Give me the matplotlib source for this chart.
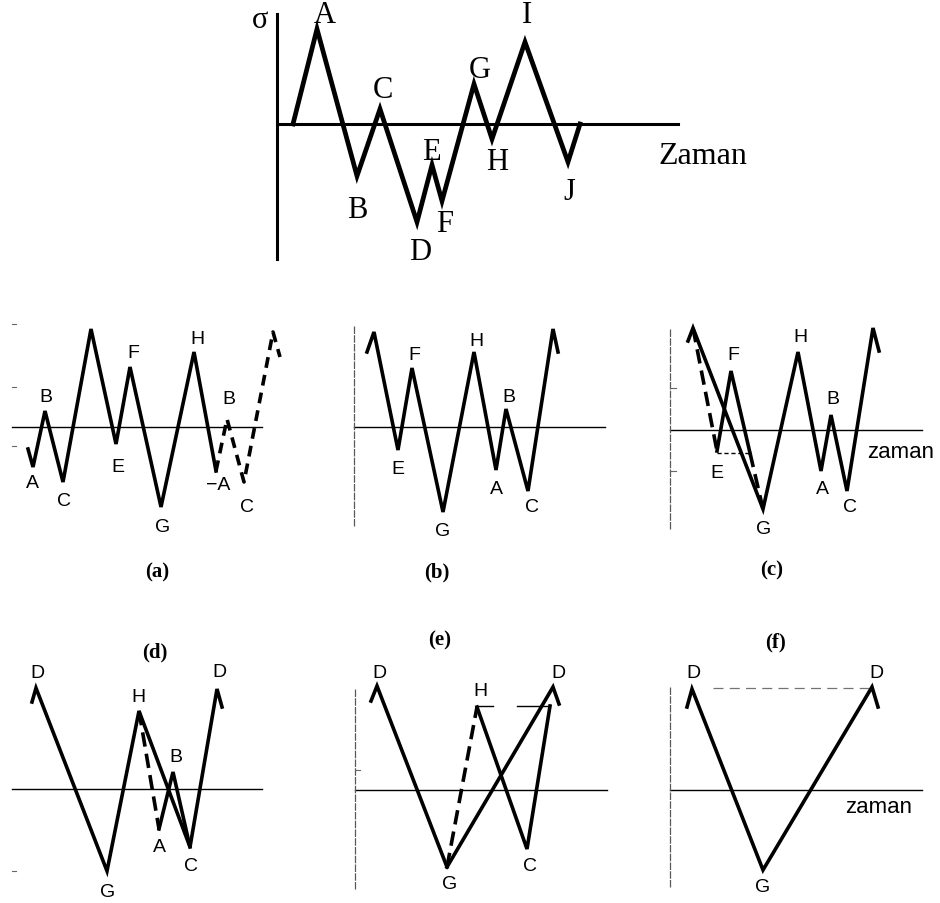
import matplotlib.pyplot as plt

W, H = 940, 904
SERIF = ['Liberation Serif', 'DejaVu Serif']
SANS = ['Liberation Sans', 'DejaVu Sans']

# ---- ana yukleme gecmisi (zaman, gerilme) ----
top_t = [1.6, 4.0, 8.0, 10.3, 14.0, 15.5, 16.5, 19.7, 21.5, 24.8, 29.1, 30.3]
top_s = [0.0, 9.5, -5.2, 1.5, -9.8, -4.1, -7.7, 4.0, -1.5, 8.2, -3.8, 0.0]
top_names = ['', 'A', 'B', 'C', 'D', 'E', 'F', 'G', 'H', 'I', 'J', '']
top_off = [None, (8, -15), (0, 33), (3, -20), (3, 30), (-1, -13), (3, 23),
           (6, -15), (5, 22), (2, -28), (1, 30), None]

# ---- (a) ----
a_t = [1.6, 2.1, 3.3, 5.1, 7.9, 10.4, 11.8, 14.9, 18.2, 20.4]
a_s = [-2.2, -4.0, 1.6, -5.5, 9.8, -1.7, 6.0, -8.0, 7.5, -4.4]
a_names = ['', 'A', 'B', 'C', '', 'E', 'F', 'G', 'H', '\u2212A']
a_off = [None, (-1, 15), (1, -15), (1, 18), None, (2, 22), (3, -14),
         (2, 20), (3, -13), (2, 14)]
a_dash_t = [20.4, 21.5, 23.2, 26.1, 26.8]
a_dash_s = [-4.4, 0.8, -5.5, 9.5, 7.0]
a_dash_names = ['', 'B', 'C', '', '']
a_dash_off = [None, (2, -21), (3, 25), None, None]

# ---- (b) ----
b_t = [1.3, 2.0, 4.4, 5.8, 8.9, 12.0, 14.2, 15.2, 17.4, 19.9, 20.4]
b_s = [7.5, 9.5, -2.3, 5.9, -8.5, 7.5, -4.3, 1.8, -6.4, 9.8, 7.5]
b_names = ['', '', 'E', 'F', 'G', 'H', 'A', 'B', 'C', '', '']
b_off = [None, None, (0, 19), (2, -14), (0, 19), (2, -12), (0, 19),
         (3, -13), (4, 16), None, None]

# ---- (c) ----
c_t = [1.8, 2.3, 9.3, 12.8, 15.1, 16.1, 17.7, 20.3, 20.9]
c_s = [8.9, 10.2, -7.9, 7.8, -4.1, 1.5, -6.1, 10.2, 7.9]
c_names = ['', '', 'G', 'H', 'A', 'B', 'C', '', '']
c_off = [None, None, (1, 20), (2, -16), (1, 18), (2, -17), (3, 16), None, None]
c_loop_t = [4.7, 6.1, 8.0]
c_loop_s = [-2.1, 5.9, -2.3]
c_loop_names = ['E', 'F', '']
c_loop_off = [(0, 21), (2, -17), None]
c_dash1_t, c_dash1_s = [2.3, 4.7], [10.2, -2.1]
c_dash2_t, c_dash2_s = [8.0, 9.3], [-2.3, -7.9]
c_level_t, c_level_s = [4.7, 8.0], [-2.3, -2.3]

# ---- (d) ----
d_t = [2.0, 2.4, 9.5, 12.7, 17.8, 20.5, 21.0]
d_s = [8.7, 10.1, -8.2, 7.8, -5.8, 10.0, 8.2]
d_names = ['', 'D', 'G', 'H', 'C', 'D', '']
d_off = [None, (1, -16), (1, 21), (-1, -14), (1, 19), (2, -17), None]
d_dash_t, d_dash_s = [12.7, 14.7], [7.8, -4.0]
d_sub_t = [14.7, 16.1, 17.8]
d_sub_s = [-4.0, 1.7, -5.8]
d_sub_names = ['A', 'B', '']
d_sub_off = [(0, 18), (3, -15), None]

# ---- (e) ----
e1_t, e1_s = [1.6, 2.2, 9.2], [8.9, 10.4, -7.7]
e1_names = ['', 'D', 'G']
e1_off = [None, (2, -13), (3, 17)]
e2_t, e2_s = [9.2, 19.8, 20.4], [-7.7, 10.3, 8.6]
e2_names = ['', 'D', '']
e2_off = [None, (5, -15), None]
e_dash_t, e_dash_s = [9.2, 12.2], [-7.7, 8.3]
e3_t, e3_s = [12.2, 17.2, 19.5], [8.3, -5.9, 8.4]
e3_names = ['H', 'C', '']
e3_off = [(3, -17), (3, 17), None]
e_level = [([12.2, 13.8], [8.4, 8.4]), ([16.2, 19.5], [8.4, 8.4])]

# ---- (f) ----
f_t = [1.7, 2.2, 9.3, 20.2, 20.8]
f_s = [8.3, 10.1, -8.0, 10.3, 8.3]
f_names = ['', 'D', 'G', 'D', '']
f_off = [None, (1, -17), (0, 17), (4, -15), None]
f_level_t, f_level_s = [4.3, 20.0], [10.2, 10.2]

fig = plt.figure(figsize=(W / 100, H / 100), dpi=100)
fig.patch.set_facecolor('white')


def panel(x0, y0, left, right, top, bottom):
    # eksen: 1 birim = 10 piksel, orijin (x0, y0) pikselde
    ax = fig.add_axes([left / W, 1 - bottom / H, (right - left) / W, (bottom - top) / H])
    ax.set_xlim((left - x0) / 10, (right - x0) / 10)
    ax.set_ylim((y0 - bottom) / 10, (y0 - top) / 10)
    ax.axis('off')
    return ax


def path(ax, t, s, lw, ls='-', color='black'):
    ax.plot(t, s, color=color, lw=lw, ls=ls, solid_joinstyle='miter',
            dash_capstyle='butt', clip_on=False)


def labels(ax, t, s, names, offs, size, family):
    for ti, si, n, o in zip(t, s, names, offs):
        if n:
            ax.annotate(n, (ti, si), xytext=(o[0], -o[1]), textcoords='offset pixels',
                        ha='center', va='center', fontsize=size, family=family)


# ana grafik
ax = panel(277, 125, 230, 760, 0, 270)
ax.plot([0, 40.1], [0, 0], color='black', lw=2.2, clip_on=False)
ax.plot([0, 0], [11.0, -13.5], color='black', lw=2.2, clip_on=False)
path(ax, top_t, top_s, 3.4)
labels(ax, top_t, top_s, top_names, top_off, 22, SERIF)
ax.text(-1.7, 10.5, '\u03c3', fontsize=22, family=SERIF, ha='center', va='center')
ax.text(38.1, -3.2, 'Zaman', fontsize=23, family=SERIF, ha='left', va='center')

lw = 2.6
# (a)
ax = panel(12, 428, 0, 300, 310, 540)
ax.plot([0, 25.0], [0, 0], color='black', lw=1.0, clip_on=False)
for s in [10.3, 4.0, -1.9]:
    ax.plot([0, 0.4], [s, s], color='0.4', lw=0.8, clip_on=False)
path(ax, a_t, a_s, lw)
path(ax, a_dash_t, a_dash_s, lw, ls=(0, (3, 2)))
labels(ax, a_t, a_s, a_names, a_off, 14, SANS)
labels(ax, a_dash_t, a_dash_s, a_dash_names, a_dash_off, 14, SANS)

# (b)
ax = panel(354, 428, 330, 620, 310, 540)
ax.plot([0, 25.1], [0, 0], color='black', lw=1.0, clip_on=False)
ax.plot([0, 0], [10.1, -10.0], color='0.35', lw=0.9, ls=(0, (6, 1)), clip_on=False)
path(ax, b_t, b_s, lw)
labels(ax, b_t, b_s, b_names, b_off, 14, SANS)

# (c)
ax = panel(670, 431, 660, 940, 310, 540)
ax.plot([0, 25.2], [0, 0], color='black', lw=1.0, clip_on=False)
ax.plot([0, 0], [10.1, -9.9], color='0.35', lw=0.9, ls=(0, (6, 1)), clip_on=False)
for s in [4.2, -4.1]:
    ax.plot([0, 0.6], [s, s], color='0.4', lw=0.8, clip_on=False)
path(ax, c_t, c_s, lw)
path(ax, c_loop_t, c_loop_s, lw)
path(ax, c_dash1_t, c_dash1_s, lw, ls=(0, (4, 2)))
path(ax, c_dash2_t, c_dash2_s, lw, ls=(0, (4, 2)))
ax.plot(c_level_t, c_level_s, color='black', lw=1.0, ls=(0, (3, 2)), clip_on=False)
labels(ax, c_t, c_s, c_names, c_off, 14, SANS)
labels(ax, c_loop_t, c_loop_s, c_loop_names, c_loop_off, 14, SANS)
ax.text(19.7, -2.1, 'zaman', fontsize=16, family=SANS, ha='left', va='center')

# (d)
ax = panel(12, 790, 0, 300, 620, 904)
ax.plot([0, 25.0], [0, 0], color='black', lw=1.0, clip_on=False)
ax.plot([0, 0.4], [-8.2, -8.2], color='0.4', lw=0.8, clip_on=False)
path(ax, d_t, d_s, lw)
path(ax, d_dash_t, d_dash_s, lw, ls=(0, (4, 2)))
path(ax, d_sub_t, d_sub_s, lw)
labels(ax, d_t, d_s, d_names, d_off, 14, SANS)
labels(ax, d_sub_t, d_sub_s, d_sub_names, d_sub_off, 14, SANS)

# (e)
ax = panel(355, 791, 330, 620, 620, 904)
ax.plot([0, 25.2], [0, 0], color='black', lw=1.0, clip_on=False)
ax.plot([0, 0], [10.1, -9.9], color='0.35', lw=0.9, ls=(0, (6, 1)), clip_on=False)
ax.plot([0, 0.5], [2.0, 2.0], color='0.4', lw=0.8, clip_on=False)
path(ax, e1_t, e1_s, lw)
path(ax, e2_t, e2_s, lw)
path(ax, e_dash_t, e_dash_s, lw, ls=(0, (4, 2)))
path(ax, e3_t, e3_s, lw)
for lt, ls_ in e_level:
    ax.plot(lt, ls_, color='black', lw=1.0, clip_on=False)
labels(ax, e1_t, e1_s, e1_names, e1_off, 14, SANS)
labels(ax, e2_t, e2_s, e2_names, e2_off, 14, SANS)
labels(ax, e3_t, e3_s, e3_names, e3_off, 14, SANS)

# (f)
ax = panel(670, 791, 660, 940, 620, 904)
ax.plot([0, 25.2], [0, 0], color='black', lw=1.0, clip_on=False)
ax.plot([0, 0], [10.3, -9.7], color='0.35', lw=0.9, ls=(0, (6, 1)), clip_on=False)
ax.plot(f_level_t, f_level_s, color='0.45', lw=0.9, ls=(0, (8, 5)), clip_on=False)
path(ax, f_t, f_s, lw)
labels(ax, f_t, f_s, f_names, f_off, 14, SANS)
ax.text(17.5, -1.7, 'zaman', fontsize=16, family=SANS, ha='left', va='center')

# alt yazilar
for txt, x, y in [('(a)', 157, 572), ('(b)', 437, 572), ('(c)', 772, 570),
                  ('(d)', 155, 652), ('(e)', 440, 640), ('(f)', 775, 642)]:
    fig.text(x / W, 1 - y / H, txt, fontsize=15, family=SERIF, fontweight='bold',
             ha='center', va='center')

fig.savefig('out.png', dpi=100, facecolor='white')
